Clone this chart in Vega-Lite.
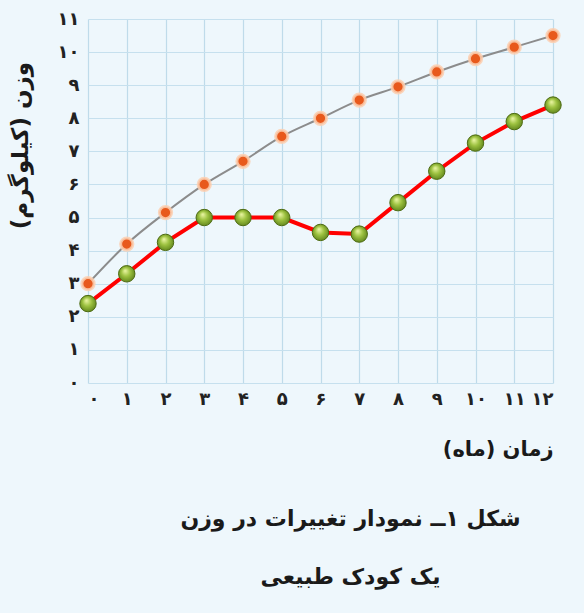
{
  "$schema": "https://vega.github.io/schema/vega-lite/v6.json",
  "width": 465,
  "height": 364,
  "autosize": {"type": "none"},
  "padding": {"left": 88, "top": 19, "right": 31, "bottom": 230},
  "background": "#eef7fc",
  "config": {"view": {"stroke": null}, "font": "DejaVu Sans"},
  "data": {
    "values": [
      {"month": 0, "normal": 3.0, "child": 2.4},
      {"month": 1, "normal": 4.2, "child": 3.3},
      {"month": 2, "normal": 5.15, "child": 4.25},
      {"month": 3, "normal": 6.0, "child": 5.0},
      {"month": 4, "normal": 6.7, "child": 5.0},
      {"month": 5, "normal": 7.45, "child": 5.0},
      {"month": 6, "normal": 8.0, "child": 4.55},
      {"month": 7, "normal": 8.55, "child": 4.5},
      {"month": 8, "normal": 8.95, "child": 5.45},
      {"month": 9, "normal": 9.4, "child": 6.4},
      {"month": 10, "normal": 9.8, "child": 7.25},
      {"month": 11, "normal": 10.15, "child": 7.9},
      {"month": 12, "normal": 10.5, "child": 8.4}
    ]
  },
  "title": {
    "text": ["شکل ۱ــ نمودار تغییرات در وزن", "یک کودک طبیعی"],
    "orient": "bottom",
    "anchor": "middle",
    "dx": 30,
    "offset": 50,
    "fontSize": 22,
    "fontWeight": "bold",
    "font": "DejaVu Sans",
    "color": "#1a1a1a",
    "lineHeight": 58
  },
  "encoding": {
    "x": {
      "field": "month",
      "type": "quantitative",
      "scale": {"domain": [0, 12], "nice": false, "zero": false},
      "axis": {
        "values": [0, 1, 2, 3, 4, 5, 6, 7, 8, 9, 10, 11, 12],
        "labelExpr": "['۰','۱','۲','۳','۴','۵','۶','۷','۸','۹','۱۰','۱۱','۱۲'][datum.value]",
        "labelOverlap": false,
        "grid": true,
        "gridColor": "#bfdbea",
        "gridWidth": 1.2,
        "domain": false,
        "ticks": false,
        "labelPadding": 7,
        "labelFontSize": 18,
        "labelFontWeight": "bold",
        "labelColor": "#222222",
        "title": "زمان (ماه)",
        "titleFontSize": 21,
        "titleFontWeight": "bold",
        "titleColor": "#1a1a1a",
        "titleX": 465,
        "titleY": 66,
        "titleAlign": "right",
        "titleBaseline": "middle"
      }
    },
    "y": {
      "field": "normal",
      "type": "quantitative",
      "scale": {"domain": [0, 11], "nice": false},
      "axis": {
        "values": [0, 1, 2, 3, 4, 5, 6, 7, 8, 9, 10, 11],
        "labelExpr": "['۰','۱','۲','۳','۴','۵','۶','۷','۸','۹','۱۰','۱۱'][datum.value]",
        "labelOverlap": false,
        "grid": true,
        "gridColor": "#c6e0ee",
        "gridWidth": 1.2,
        "domain": false,
        "ticks": false,
        "labelPadding": 9,
        "labelFontSize": 18,
        "labelFontWeight": "bold",
        "labelColor": "#222222",
        "title": "وزن (کیلوگرم)",
        "titleFontSize": 23,
        "titleFontWeight": "bold",
        "titleColor": "#1a1a1a",
        "titleAngle": -90,
        "titleX": -68,
        "titleY": 126,
        "titleAlign": "center",
        "titleBaseline": "middle"
      }
    }
  },
  "layer": [
    {
      "mark": {"type": "line", "color": "#8c8c8c", "strokeWidth": 2, "interpolate": "monotone"}
    },
    {
      "mark": {"type": "point", "filled": true, "size": 150, "fill": "#e8591c", "stroke": "#fbcfb0", "strokeWidth": 3, "strokeOpacity": 0.85, "opacity": 1}
    },
    {
      "mark": {"type": "line", "color": "#ff0000", "strokeWidth": 4},
      "encoding": {"y": {"field": "child", "type": "quantitative"}}
    },
    {
      "mark": {
        "type": "point",
        "filled": true,
        "size": 270,
        "opacity": 1,
        "fill": {
          "gradient": "radial",
          "x1": 0.4, "y1": 0.3, "r1": 0,
          "x2": 0.5, "y2": 0.5, "r2": 0.6,
          "stops": [
            {"offset": 0, "color": "#eef8a8"},
            {"offset": 0.45, "color": "#9dc240"},
            {"offset": 1, "color": "#557a16"}
          ]
        },
        "stroke": "#4d6b12",
        "strokeWidth": 1
      },
      "encoding": {"y": {"field": "child", "type": "quantitative"}}
    }
  ]
}
